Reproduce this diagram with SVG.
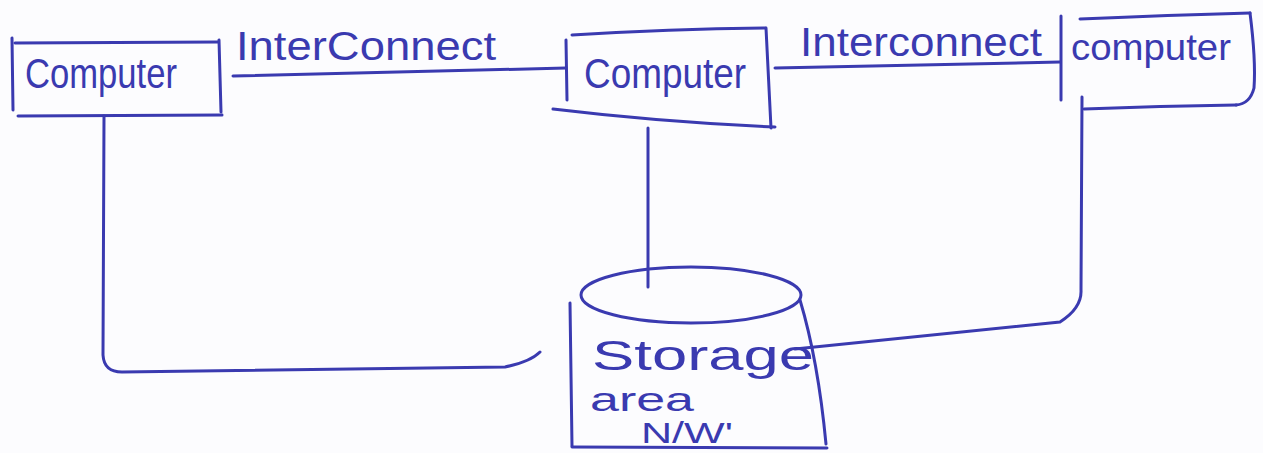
<svg xmlns="http://www.w3.org/2000/svg" width="1263" height="453" viewBox="0 0 1263 453">
  <style>
    .ink { fill: none; stroke: #3a3ab0; stroke-width: 3; stroke-linecap: round; stroke-linejoin: round; }
    .lbl { fill: #3a3ab0; font-family: "Liberation Sans", "DejaVu Sans", sans-serif; }
  </style>
  <rect width="1263" height="453" fill="#fcfcfe"/>

  <!-- left computer -->
  <g id="computer-left">
    <path class="ink" d="M12 38 L13 110"/>
    <path class="ink" d="M15 43 L218 42"/>
    <path class="ink" d="M219 40 L221 112"/>
    <path class="ink" d="M18 116 L222 115"/>
    <text class="lbl" x="25" y="88" font-size="42" textLength="152" lengthAdjust="spacingAndGlyphs">Computer</text>
  </g>

  <!-- middle computer -->
  <g id="computer-middle">
    <path class="ink" d="M566 40 L567 100"/>
    <path class="ink" d="M572 35 Q670 29 765 28"/>
    <path class="ink" d="M766 28 L771 128"/>
    <path class="ink" d="M553 109 Q660 122 775 127"/>
    <text class="lbl" x="584" y="88" font-size="42" textLength="162" lengthAdjust="spacingAndGlyphs">Computer</text>
  </g>

  <!-- right computer -->
  <g id="computer-right">
    <path class="ink" d="M1061 16 L1061 100"/>
    <path class="ink" d="M1080 19 Q1170 15 1250 13"/>
    <path class="ink" d="M1250 13 Q1256 60 1254 88 Q1250 104 1236 105"/>
    <path class="ink" d="M1084 109 Q1160 106 1236 105"/>
    <text class="lbl" x="1071" y="60" font-size="36" textLength="160" lengthAdjust="spacingAndGlyphs">computer</text>
  </g>

  <!-- shared storage -->
  <g id="storage">
    <ellipse class="ink" cx="691" cy="295" rx="110" ry="28"/>
    <path class="ink" d="M570 303 L572 446"/>
    <path class="ink" d="M572 447 L827 448"/>
    <path class="ink" d="M800 300 Q818 360 826 444"/>
    <text class="lbl" x="592" y="370" font-size="42" textLength="222" lengthAdjust="spacingAndGlyphs">Storage</text>
    <text class="lbl" x="590" y="411" font-size="34" textLength="104" lengthAdjust="spacingAndGlyphs">area</text>
    <text class="lbl" x="641" y="443" font-size="30" textLength="92" lengthAdjust="spacingAndGlyphs">N/W'</text>
  </g>

  <!-- connectors -->
  <g id="connectors">
    <path class="ink" d="M233 76 L566 68"/>
    <text class="lbl" x="236" y="60" font-size="40" textLength="260" lengthAdjust="spacingAndGlyphs">InterConnect</text>
    <path class="ink" d="M775 68 L1060 62"/>
    <text class="lbl" x="800" y="56" font-size="40" textLength="242" lengthAdjust="spacingAndGlyphs">Interconnect</text>
    <path class="ink" d="M104 116 L103 355 Q104 372 122 372 L505 367 Q530 362 540 352"/>
    <path class="ink" d="M648 128 L648 287"/>
    <path class="ink" d="M1082 97 L1081 290 Q1082 308 1060 322 L795 349"/>
  </g>
</svg>
